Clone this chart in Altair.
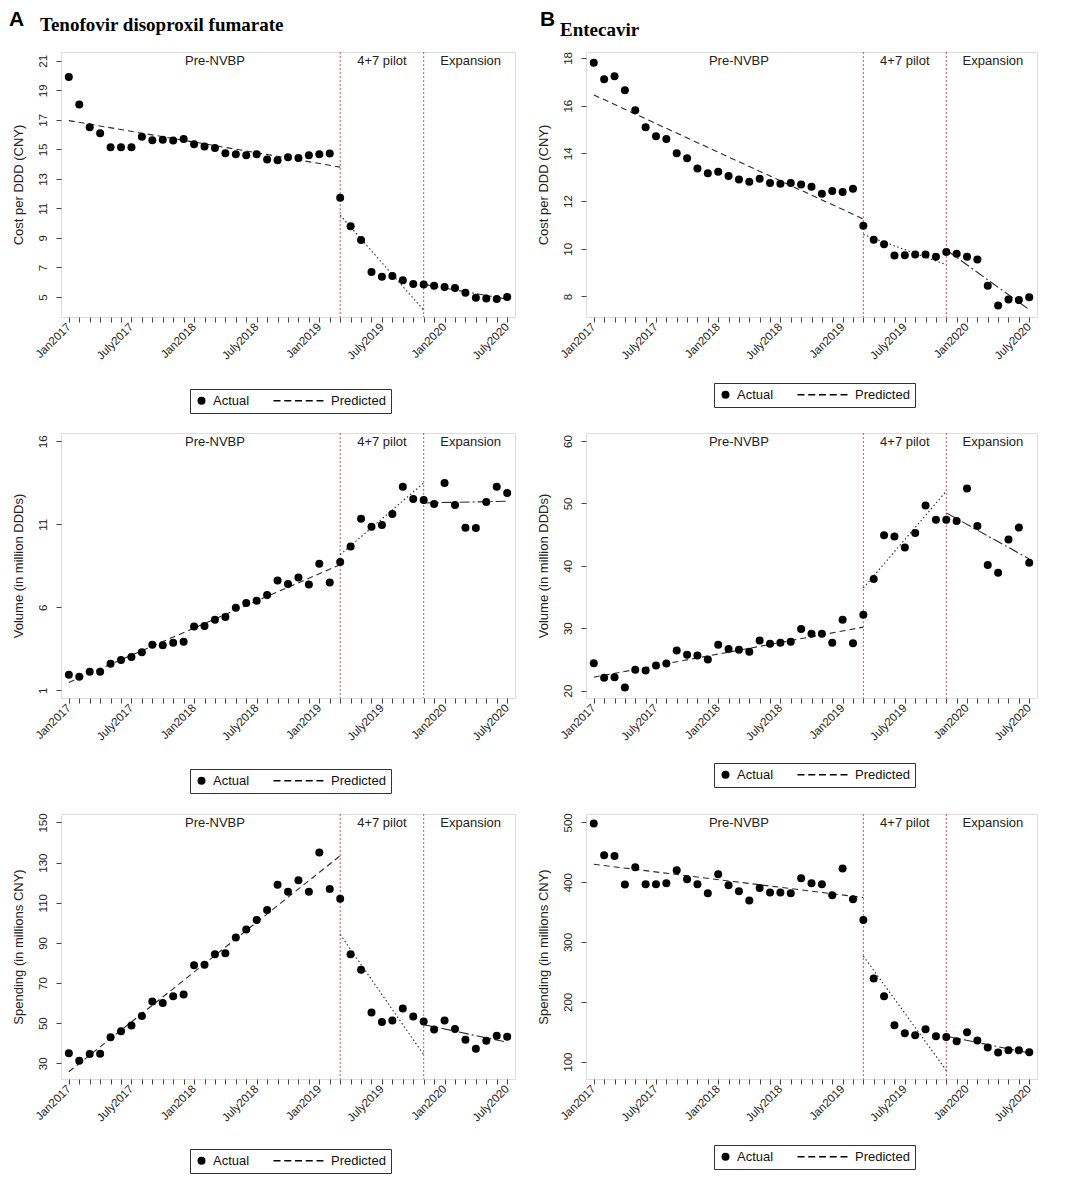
import json
import altair as alt
import pandas as pd

FONT = "Liberation Sans"
SERIF = "Liberation Serif"

# ---------------- data ----------------
months = list(range(43))  # Jan2017 ... July2020
tick_labels = ["Jan2017", "July2017", "Jan2018", "July2018",
               "Jan2019", "July2019", "Jan2020", "July2020"]
breaks = [26, 34]
periods = ["Pre-NVBP", "4+7 pilot", "Expansion"]
period_label_x = [14, 30, 38.5]
segments = ["pre", "pilot", "expansion"]
segment_x = [[0, 26], [26, 34], [34, 42]]

tdf_cost = [19.9, 18.05, 16.5, 16.1, 15.15, 15.15, 15.15, 15.85, 15.62, 15.65,
            15.6, 15.7, 15.35, 15.2, 15.1, 14.74, 14.67, 14.6, 14.67, 14.31,
            14.27, 14.47, 14.42, 14.6, 14.67, 14.72, 11.73, 9.79, 8.86, 6.69,
            6.36, 6.42, 6.13, 5.88, 5.84, 5.75, 5.68, 5.61, 5.29, 4.95,
            4.9, 4.86, 5.0]
tdf_cost_pred = [[16.95, 13.8], [10.54, 4.1], [5.85, 4.85]]

etv_cost = [17.8, 17.11, 17.23, 16.65, 15.81, 15.1, 14.72, 14.6, 14.01, 13.8,
            13.37, 13.17, 13.23, 13.05, 12.9, 12.81, 12.94, 12.76, 12.73, 12.76,
            12.69, 12.6, 12.31, 12.42, 12.38, 12.52, 10.97, 10.38, 10.19, 9.72,
            9.73, 9.76, 9.76, 9.67, 9.87, 9.79, 9.67, 9.55, 8.45, 7.62,
            7.87, 7.85, 7.97]
etv_cost_pred = [[16.45, 11.25], [10.6, 9.33], [9.95, 7.45]]

tdf_vol = [1.94, 1.82, 2.12, 2.12, 2.61, 2.83, 3.01, 3.29, 3.75, 3.71,
           3.87, 3.93, 4.84, 4.88, 5.26, 5.42, 5.98, 6.26, 6.4, 6.74,
           7.61, 7.41, 7.79, 7.37, 8.63, 7.49, 8.73, 9.67, 11.34, 10.86,
           10.96, 11.62, 13.27, 12.53, 12.47, 12.22, 13.49, 12.16, 10.8, 10.78,
           12.35, 13.27, 12.89]
tdf_vol_pred = [[1.48, 8.57], [9.17, 13.49], [12.29, 12.39]]

etv_vol = [24.39, 22.03, 22.14, 20.48, 23.32, 23.21, 24.02, 24.34, 26.43, 25.73,
           25.62, 24.98, 27.34, 26.64, 26.53, 26.21, 28.03, 27.5, 27.66, 27.82,
           29.85, 29.1, 29.1, 27.66, 31.35, 27.6, 32.16, 37.89, 44.9, 44.69,
           42.92, 45.27, 49.67, 47.37, 47.37, 47.2, 52.4, 46.4, 40.13, 38.9,
           44.2, 46.13, 40.51]
etv_vol_pred = [[22.14, 30.17], [36.44, 51.97], [48.49, 41.1]]

tdf_spend = [35.0, 31.3, 34.7, 34.8, 43.0, 46.0, 48.8, 53.6, 60.8, 60.1,
             63.4, 64.3, 78.8, 79.1, 84.4, 84.8, 92.7, 96.7, 101.4, 106.4,
             119.0, 115.5, 121.2, 115.5, 135.0, 116.9, 112.0, 84.3, 76.6, 55.3,
             50.6, 51.3, 57.3, 53.3, 50.8, 46.8, 51.3, 47.1, 41.8, 37.3,
             41.3, 43.8, 43.3]
tdf_spend_pred = [[25.8, 133.4], [94.2, 34.3], [49.3, 40.5]]

etv_spend = [498, 445, 443.6, 396, 425, 396.6, 396.6, 398.3, 420, 405,
             396.6, 381.6, 413.4, 395, 385, 369.3, 390.5, 382.7, 382.7, 381.6,
             406.7, 398.3, 396.6, 378.2, 423, 371.5, 336.9, 239, 209.5, 160.9,
             147.5, 144.1, 154.2, 142.5, 141.3, 134.1, 149.2, 135.2, 123.5, 115.1,
             119, 119, 115.6]
etv_spend_pred = [[430, 374.3], [276.5, 85.5], [142.5, 114.5]]

# ---------------- styling helpers ----------------
# legend symbol for "Predicted": five thin filled dashes, drawn to the left of
# the symbol slot (units of half the symbol width)
_dash_starts = [-11.5, -8.81, -6.13, -3.44, -0.75]
DASH_PATH = "".join(
    f"M{s:.2f},-0.16H{s + 1.75:.2f}V0.16H{s:.2f}Z" for s in _dash_starts)

xscale = alt.Scale(domain=[-0.75, 42.75], nice=False, zero=False)
label_expr = f"datum.value % 6 == 0 ? {json.dumps(tick_labels)}[datum.value / 6] : ''"
xaxis = alt.Axis(values=months, labelExpr=label_expr, labelAngle=315,
                 labelAlign="right", labelBaseline="middle", labelPadding=3,
                 tickSize=5, labelOverlap=False, labelFlush=False, grid=False,
                 domain=False, labelFont=FONT, labelFontSize=11.5,
                 labelColor="#222", tickColor="#444")


def panel(actual, pred, ytitle, ydomain, yticks, width, legend_x, legend_y,
          heading=None):
    df_act = pd.DataFrame({"m": months, "v": actual, "k": "Actual"})
    rows = []
    for seg, xs, vs in zip(segments, segment_x, pred):
        for x, v in zip(xs, vs):
            rows.append({"m": x, "v": v, "seg": seg})
    df_pred = pd.DataFrame(rows)
    df_breaks = pd.DataFrame({"m": breaks})
    df_per = pd.DataFrame({"m": period_label_x, "t": periods})

    X = alt.X("m:Q", scale=xscale, axis=xaxis, title=None)
    Y = alt.Y("v:Q", scale=alt.Scale(domain=ydomain, nice=False, zero=False),
              axis=alt.Axis(values=yticks, labelAngle=270, labelAlign="center",
                            labelBaseline="bottom", labelPadding=8, tickSize=5,
                            grid=False, domain=False, labelFont=FONT,
                            labelFontSize=11.5, labelColor="#222",
                            tickColor="#444", titleFont=FONT, titleFontSize=13,
                            titleFontWeight="normal", titleColor="#222",
                            titlePadding=12),
              title=ytitle)

    rules = alt.Chart(df_breaks).mark_rule(
        color="#d05050", strokeDash=[2, 2], strokeWidth=1).encode(x=X)

    lines = alt.Chart(df_pred).mark_line(color="#2a2a2a", strokeWidth=1.1).encode(
        x=X, y=Y, detail="seg:N",
        strokeDash=alt.StrokeDash(
            "seg:N",
            scale=alt.Scale(domain=segments,
                            range=[[6, 4], [1.5, 2.5], [10, 3, 2, 3]]),
            legend=None))

    pts = alt.Chart(df_act).mark_point(
        filled=True, size=64, color="black", opacity=1).encode(
        x=X, y=Y,
        shape=alt.Shape(
            "k:N",
            scale=alt.Scale(domain=["Actual", "Predicted"],
                            range=["circle", DASH_PATH]),
            legend=alt.Legend(title=None, orient="none", legendX=legend_x,
                              legendY=legend_y, direction="horizontal",
                              strokeColor="#333", fillColor="white", padding=5,
                              labelFont=FONT, labelFontSize=13,
                              labelColor="#111", symbolSize=64,
                              symbolFillColor="black", columnPadding=20,
                              labelOffset=5)))

    per = alt.Chart(df_per).mark_text(
        font=FONT, fontSize=13, color="#222", baseline="middle").encode(
        x=X, y=alt.value(9), text="t:N")

    layers = [rules, lines, pts, per]
    if heading is not None:
        letter, lx, ly, name, nx, ny = heading
        layers.append(alt.Chart(pd.DataFrame({"t": [letter]})).mark_text(
            font=FONT, fontWeight="bold", fontSize=21, align="left",
            baseline="alphabetic", color="black").encode(
            text="t:N", x=alt.value(lx), y=alt.value(ly)))
        layers.append(alt.Chart(pd.DataFrame({"t": [name]})).mark_text(
            font=SERIF, fontWeight="bold", fontSize=19, align="left",
            baseline="alphabetic", color="black").encode(
            text="t:N", x=alt.value(nx), y=alt.value(ny)))

    return alt.layer(*layers).properties(width=width, height=265)


WA, WB = 454, 451

panels = [
    panel(tdf_cost, tdf_cost_pred, "Cost per DDD (CNY)", [3.64, 21.6],
          [5, 7, 9, 11, 13, 15, 17, 19, 21], WA, 129, 337,
          heading=("A", -52, -26, "Tenofovir disoproxil fumarate", -21, -21)),
    panel(etv_cost, etv_cost_pred, "Cost per DDD (CNY)", [7.14, 18.25],
          [8, 10, 12, 14, 16, 18], WB, 128, 331,
          heading=("B", -46, -26, "Entecavir", -26, -16)),
    panel(tdf_vol, tdf_vol_pred, "Volume (in million DDDs)", [0.54, 16.5],
          [1, 6, 11, 16], WA, 129, 336),
    panel(etv_vol, etv_vol_pred, "Volume (in million DDDs)", [18.8, 61.3],
          [20, 30, 40, 50, 60], WB, 128, 330),
    panel(tdf_spend, tdf_spend_pred, "Spending (in millions CNY)", [22.2, 154.2],
          [30, 50, 70, 90, 110, 130, 150], WA, 129, 335),
    panel(etv_spend, etv_spend_pred, "Spending (in millions CNY)", [71, 514],
          [100, 200, 300, 400, 500], WB, 128, 331),
]

chart = alt.concat(
    *panels, columns=2, bounds="flush", spacing={"row": 116, "column": 71}
).resolve_scale(
    x="independent", y="independent", shape="independent",
    strokeDash="independent"
).resolve_legend(shape="independent").properties(
    padding=0
).configure_view(stroke="#444", strokeWidth=1).configure(background="white")

chart.save("out.html", embed_options={"renderer": "svg", "actions": False})
